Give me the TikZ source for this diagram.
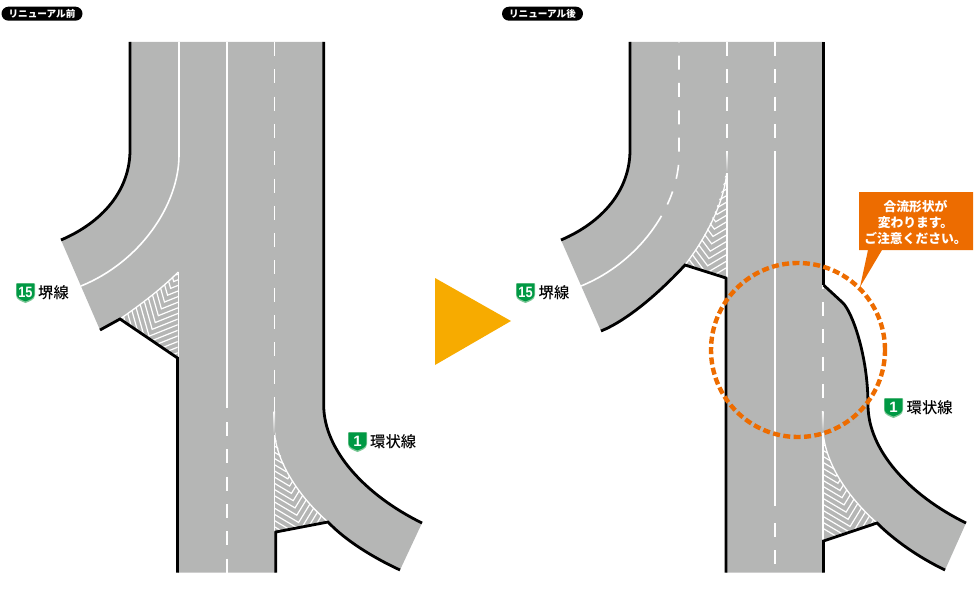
\documentclass[tikz,border=0pt]{standalone}
\usepackage{fontspec}
\newfontfamily\jp{Noto Sans CJK JP}
\newfontfamily\jpm{Noto Sans CJK JP Medium}
\newfontfamily\numf{Liberation Sans}
\definecolor{roadg}{HTML}{B5B6B5}
\definecolor{oran}{HTML}{ED6C00}
\definecolor{arrowy}{HTML}{F7AB00}
\definecolor{shdark}{HTML}{009944}
\definecolor{shlight}{HTML}{7CC796}
\tikzset{
  road/.style={fill=roadg,draw=none},
  edge/.style={draw=black,line width=2.8pt,line join=miter,line cap=butt},
  wline/.style={draw=white,line width=1.6pt},
  wdash/.style={wline,dash pattern=on 14pt off 13.3pt},
  goreln/.style={draw=white,line width=1.3pt},
  hatchln/.style={draw=white,line width=1.2pt},
  pill/.style={fill=black,text=white,rounded corners=7pt,minimum width=81pt,minimum height=14pt,inner sep=0pt,font=\jp\bfseries\fontsize{9.6}{10}\selectfont},
  roadname/.style={inner sep=0pt,text=black,font=\jpm\fontsize{15.3}{16}\selectfont},
  shnum/.style={inner sep=0pt,text=white,font=\numf\bfseries\fontsize{15}{15}\selectfont},
  calloutxt/.style={inner sep=0pt,text=white,align=center,font=\jp\bfseries\fontsize{12.8}{16}\selectfont}
}
\newcommand{\chevrons}[8]{%
  \foreach \s in {3,10.5,...,130}{%
    \draw[hatchln] ({#1+\s*#3+#5},{#2+\s*#4+#6}) -- ({#1+\s*#3},{#2+\s*#4}) -- ({#1+\s*#3+#7},{#2+\s*#4+#8});
  }%
}
\newcommand{\shield}[4]{%
  \begin{scope}[shift={(#1,#2)}]
    \fill[shlight] (0,1) .. controls (0,0.3) and (0.3,0) .. (1,0) -- (18,0) .. controls (18.7,0) and (19,0.3) .. (19,1) -- (19,12) .. controls (19,17) and (13,18.5) .. (9.5,20) .. controls (6,18.5) and (0,17) .. (0,12) -- cycle;
    \fill[shdark] (0.7,0.7) -- (18.3,0.7) -- (18.3,11.5) .. controls (18.3,15.5) and (13,17) .. (9.5,18.4) .. controls (6,17) and (0.7,15.5) .. (0.7,11.5) -- cycle;
    \node[shnum,xscale=#4] (sh#3#1) at (9.5,9) {#3};
  \end{scope}%
}
\begin{document}
\begin{tikzpicture}[x=1pt,y=-1pt]
\useasboundingbox (0,0) rectangle (976,599);
% ---- left road
\fill[road] (130,42) -- (323.7,42) -- (323.7,405) .. controls (323.7,450) and (365,495) .. (422,523) -- (400,570)
  .. controls (372,557) and (345,540) .. (328,522) -- (275.8,532) -- (275.8,572.5) -- (177.5,572.5) -- (177.5,358) -- (120,319) -- (100,330) -- (61,240)
  .. controls (103,222) and (130,190) .. (130,150) -- cycle;
\begin{scope}
  \clip (178,272) .. controls (160,290) and (140,305) .. (120,319) -- (177.5,358) -- cycle;
  \chevrons{178}{272}{-0.41}{0.91}{93}{-37}{-27}{-96}
\end{scope}
\begin{scope}
  \clip (274.5,425) .. controls (276,460) and (297,495) .. (328,522) -- (275.8,532) -- (274.5,532) -- cycle;
  \chevrons{274.5}{425}{0.24}{0.97}{-86}{-51}{52}{-85}
\end{scope}
\draw[goreln] (178.3,272) .. controls (160,290) and (140,305) .. (120,319);
\draw[goreln] (178.3,272) -- (178.3,358);
\draw[goreln] (274.5,432) .. controls (276,460) and (297,495) .. (328,522);
\draw[goreln] (274.5,432) -- (274.5,532);
% lines
\draw[wline] (179,42) -- (179,155) .. controls (179,205) and (140,262) .. (81,286);
\draw[wline] (226.7,42) -- (226.7,408);
\draw[wdash] (226.7,422) -- (226.7,572.5);
\draw[wdash] (274.3,42) -- (274.3,411);
\shade[top color=white,bottom color=roadg] (273.5,411) rectangle (275.1,434);
% edges
\draw[edge] (130,42) -- (130,150) .. controls (130,190) and (103,222) .. (61,240);
\draw[edge] (323.7,42) -- (323.7,405) .. controls (323.7,450) and (365,495) .. (422,523);
\draw[edge] (400,570) .. controls (372,557) and (345,540) .. (328,522) -- (275.8,532) -- (275.8,572.5);
\draw[edge] (177.5,572.5) -- (177.5,358) -- (120,319) -- (100,330);
% ---- right road
\fill[road] (630,42) -- (823.5,42) -- (823.5,285) -- (843,303) .. controls (852,312) and (868,355) .. (868,405)
  .. controls (868,450) and (909,495) .. (966,523) -- (945,570) .. controls (918,557) and (894,540) .. (877,523)
  -- (823.5,541) -- (823.5,572.5) -- (726,572.5) -- (726,278) -- (685,265) .. controls (660,292) and (628,320) .. (601,331) -- (561,240)
  .. controls (603,222) and (630,190) .. (630,150) -- cycle;
\begin{scope}
  \clip (727,160) .. controls (725,195) and (708,235) .. (685,265) -- (727,277.5) -- cycle;
  \chevrons{727}{160}{-0.18}{0.98}{86}{-51}{-60}{-80}
\end{scope}
\begin{scope}
  \clip (823,430) .. controls (826,465) and (848,497) .. (877,523) -- (823.5,541) -- (823,541) -- cycle;
  \chevrons{823}{430}{0.27}{0.96}{-86}{-51}{52}{-85}
\end{scope}
\draw[goreln] (727,170) .. controls (725,200) and (708,235) .. (685,265);
\draw[goreln] (727,170) -- (727,277.5);
\draw[goreln] (823,432) .. controls (826,465) and (848,497) .. (877,523);
\draw[goreln] (823,432) -- (823,541);
% lines
\draw[wline,dash pattern=on 14pt off 13.3pt,dash phase=13.6pt] (679,42) -- (679,155) .. controls (679,175) and (672.8,196.1) .. (661.5,215.8);
\draw[wline] (661.5,215.8) .. controls (644.6,245.3) and (616.4,271.6) .. (581,286);
\draw[wdash] (727,42) -- (727,151);
\shade[top color=white,bottom color=roadg] (726.2,151) rectangle (727.8,172);
\draw[wdash] (775,42) -- (775,138);
\draw[wline] (775,151) -- (775,506);
\draw[wdash] (775,523) -- (775,564);
\draw[wline,dash pattern=on 14pt off 13.3pt,dash phase=10.3pt] (822.7,285) -- (822.7,411);
\shade[top color=white,bottom color=roadg] (821.9,411) rectangle (823.5,432);
% edges
\draw[edge] (630,42) -- (630,150) .. controls (630,190) and (603,222) .. (561,240);
\draw[edge] (823.5,42) -- (823.5,285);
\draw[edge] (823.5,285) -- (843,303) .. controls (852,312) and (868,355) .. (868,405) .. controls (868,450) and (909,495) .. (966,523);
\draw[edge] (945,570) .. controls (918,557) and (894,540) .. (877,523) -- (823.5,541) -- (823.5,572.5);
\draw[edge] (726,572.5) -- (726,278) -- (685,265) .. controls (660,292) and (628,320) .. (601,331);
% ---- arrow
\fill[arrowy] (435,278) -- (511,321) -- (435,365) -- cycle;
% ---- circle and callout
\draw[oran,line width=4.4pt,dash pattern=on 7pt off 3.4pt] (798,350) circle (87pt);
\fill[oran] (859,192) -- (973,192) -- (973,250) -- (882,250) -- (860,287) -- (868,250) -- (859,250) -- cycle;
\node[calloutxt] (callout) at (915.5,222) {合流形状が\\変わります。\\ご注意ください。};
% ---- pills
\node[pill] (before) at (42,13.7) {リニューアル前};
\node[pill] (after) at (542.5,13.7) {リニューアル後};
% ---- signs
\shield{16}{283}{15}{0.85}
\shield{516}{283}{15}{0.85}
\shield{348}{432}{1}{1}
\shield{884}{398}{1}{1}
\node[roadname,anchor=west] (sakai1) at (38,293) {堺線};
\node[roadname,anchor=west] (sakai2) at (538.5,293) {堺線};
\node[roadname,anchor=west] (kanjo1) at (370,442) {環状線};
\node[roadname,anchor=west] (kanjo2) at (906.5,408) {環状線};
\end{tikzpicture}
\end{document}
